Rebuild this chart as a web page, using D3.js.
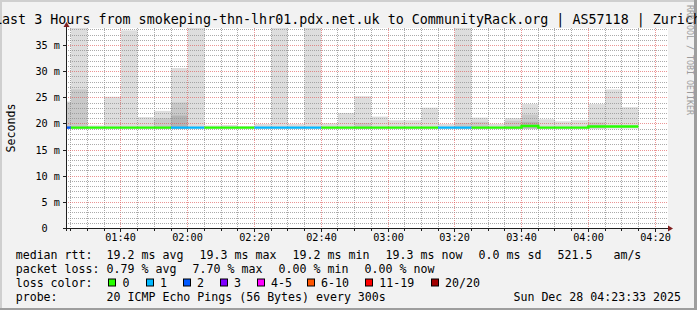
<!DOCTYPE html>
<html>
<head>
<meta charset="utf-8">
<script src="https://cdn.jsdelivr.net/npm/d3@7"></script>
<style>
  html, body { margin: 0; padding: 0; background: #f2f2f2; }
  svg { display: block; }
  text { font-family: "DejaVu Sans Mono", monospace; white-space: pre; }
</style>
</head>
<body>
<div id="chart"></div>
<script>
// one entry per 5 minute step, the first one (01:20) is only partly in the window
const lossClass = [2, 0, 0, 0, 0, 0, 0, 1, 1, 0, 0, 0, 1, 1, 1, 1, 0, 0, 0, 0, 0, 0, 0, 1, 1, 0, 0, 0, 0, 0, 0, 0, 0, 0, 0];
const medianRtt = [19.2, 19.2, 19.2, 19.2, 19.2, 19.2, 19.2, 19.2, 19.2, 19.2, 19.2, 19.2, 19.2, 19.2, 19.2, 19.2, 19.2, 19.2, 19.2,
                   19.2, 19.2, 19.2, 19.2, 19.2, 19.2, 19.2, 19.2, 19.2, 19.5, 19.2, 19.2, 19.2, 19.4, 19.4, 19.4];
// smoke: outer / middle / inner top of the ping spread (ms)
const smokeHi = [24.2, 40, 19.6, 25.1, 37.8, 21.2, 22.4, 30.6, 40, 19.6, 19.7, 19.5, 19.9, 40, 19.9, 40, 20.0, 22.0,
                 25.2, 21.3, 20.6, 20.6, 23.0, 19.9, 40, 21.1, 19.9, 21.0, 23.7, 20.8, 20.4, 20.6, 23.7, 26.5, 23.1];
const smokeMid = [24.0, 26.5, null, null, null, null, 21.0, 24.0, null, null, null, null, null, null, null, null, null, null,
                  20.1, null, null, null, null, null, 20.1, 20.3, null, 20.5, 21.7, null, null, null, 20.2, null, null];
const smokeInner = [null, null, null, null, null, null, null, 21.5, null, null, null, null, null, null, null, null, null, null,
                    null, null, null, null, null, null, null, null, null, null, 20.3, null, null, null, null, null, null];
const smokeFloor = 19.0;

const lossLabels = ["0", "1", "2", "3", "4-5", "6-10", "11-19", "20/20"];
const lossColors = ["#26ff00", "#00b8ff", "#0059ff", "#7e00ff", "#ff00ff", "#ff5500", "#ff0000", "#a10000"];
const rttStats = ["19.2 ms avg", "19.3 ms max", "19.2 ms min", "19.3 ms now", "0.0 ms sd", "521.5   am/s"];
const lossStats = ["0.79 % avg", "7.70 % max", "0.00 % min", "0.00 % now"];
const probeText = "20 ICMP Echo Pings (56 Bytes) every 300s";
const stampText = "Sun Dec 28 04:23:33 2025";
const titleText = "Last 3 Hours from smokeping-thn-lhr01.pdx.net.uk to CommunityRack.org | AS57118 | Zurich";

const W = 697, H = 310;
const plotLeft = 66, plotRight = 667, plotTop = 28, plotBottom = 228;

const t0 = new Date(2025, 11, 28, 1, 23, 33);
const t1 = new Date(2025, 11, 28, 4, 23, 33);
const firstBin = new Date(2025, 11, 28, 1, 20, 0);
const bins = medianRtt.map((m, i) => ({
    start: d3.timeMinute.offset(firstBin, 5 * i),
    end: d3.timeMinute.offset(firstBin, 5 * i + 5),
    median: m,
    loss: lossClass[i],
    hi: smokeHi[i],
    mid: smokeMid[i],
    inner: smokeInner[i]
}));

const x = d3.scaleTime().domain([t0, t1]).range([plotLeft, plotRight]);
const y = d3.scaleLinear().domain([0, 38.25]).range([plotBottom, plotTop]);

const svg = d3.select("#chart").append("svg")
    .attr("width", W)
    .attr("height", H);

// background + 3d border
svg.append("rect").attr("width", W).attr("height", H).attr("fill", "#f2f2f2");
svg.append("rect").attr("x", 0).attr("y", 0).attr("width", W).attr("height", 2).attr("fill", "#cfcfcf");
svg.append("rect").attr("x", 0).attr("y", 0).attr("width", 2).attr("height", H).attr("fill", "#cfcfcf");
svg.append("rect").attr("x", 0).attr("y", H - 2).attr("width", W).attr("height", 2).attr("fill", "#9e9e9e");
svg.append("rect").attr("x", W - 3).attr("y", 0).attr("width", 3).attr("height", H).attr("fill", "#9e9e9e");

// canvas
svg.append("rect")
    .attr("x", plotLeft).attr("y", plotTop)
    .attr("width", plotRight - plotLeft + 1).attr("height", plotBottom - plotTop)
    .attr("fill", "#ffffff");

svg.append("clipPath").attr("id", "plot")
    .append("rect")
    .attr("x", plotLeft).attr("y", plotTop)
    .attr("width", plotRight - plotLeft + 1).attr("height", plotBottom - plotTop);

// smoke layers
const layers = [
    { key: "hi", color: "#dddddd" },
    { key: "mid", color: "#c9c9c9" },
    { key: "inner", color: "#b4b4b4" }
];
const smoke = svg.append("g").attr("clip-path", "url(#plot)");
layers.forEach(layer => {
    smoke.selectAll(null)
        .data(bins.filter(d => d[layer.key] != null))
        .join("rect")
        .attr("x", d => x(d.start))
        .attr("width", d => x(d.end) - x(d.start))
        .attr("y", d => y(d[layer.key]))
        .attr("height", d => y(smokeFloor) - y(d[layer.key]))
        .attr("fill", layer.color);
});

// grid
const px = v => Math.floor(v) + 0.5;
const py = v => Math.round(v) + 0.5;
const grid = svg.append("g").attr("stroke-dasharray", "1,1").attr("stroke-width", 1);
const fiveMin = x.ticks(d3.timeMinute.every(5));
const isMajorTime = t => t.getMinutes() % 20 === 0;
grid.selectAll(null)
    .data(fiveMin)
    .join("line")
    .attr("x1", d => px(x(d))).attr("x2", d => px(x(d)))
    .attr("y1", plotTop).attr("y2", plotBottom)
    .attr("stroke", d => isMajorTime(d) ? "rgba(222,79,79,0.6)" : "rgba(143,143,143,0.75)");
const msLines = d3.range(1, 39);
grid.selectAll(null)
    .data(msLines)
    .join("line")
    .attr("x1", plotLeft).attr("x2", plotRight + 1)
    .attr("y1", d => py(y(d))).attr("y2", d => py(y(d)))
    .attr("stroke", d => d % 5 === 0 ? "rgba(222,79,79,0.6)" : "rgba(143,143,143,0.75)");

// median line, one path per run of the same loss colour
const runs = [];
bins.forEach(d => {
    const last = runs[runs.length - 1];
    if (last && last.loss === d.loss) last.points.push(d);
    else runs.push({ loss: d.loss, points: [d] });
});
const medianLine = d3.line()
    .x(d => x(d.t))
    .y(d => y(d.v))
    .curve(d3.curveStepAfter);
svg.append("g").attr("clip-path", "url(#plot)")
    .selectAll("path")
    .data(runs)
    .join("path")
    .attr("d", r => {
        const pts = r.points.map(d => ({ t: d.start, v: d.median }));
        const lastPt = r.points[r.points.length - 1];
        pts.push({ t: lastPt.end, v: lastPt.median });
        return medianLine(pts);
    })
    .attr("fill", "none")
    .attr("stroke", r => lossColors[r.loss])
    .attr("stroke-width", 2.4);

// axes
const axisColor = "#1f1f1f", arrowColor = "#801f1f";
svg.append("line")
    .attr("x1", plotLeft - 3).attr("x2", plotRight + 1)
    .attr("y1", plotBottom + 0.5).attr("y2", plotBottom + 0.5)
    .attr("stroke", axisColor);
svg.append("line")
    .attr("x1", plotLeft + 0.5).attr("x2", plotLeft + 0.5)
    .attr("y1", plotBottom + 3).attr("y2", plotTop - 4)
    .attr("stroke", axisColor);
svg.append("path")
    .attr("d", `M${plotRight + 1},${plotBottom - 2.5}L${plotRight + 6},${plotBottom + 0.5}L${plotRight + 1},${plotBottom + 3.5}Z`)
    .attr("fill", arrowColor);
svg.append("path")
    .attr("d", `M${plotLeft - 2.5},${plotTop - 1}L${plotLeft + 0.5},${plotTop - 6}L${plotLeft + 3.5},${plotTop - 1}Z`)
    .attr("fill", arrowColor);

// x ticks + labels
svg.append("g").selectAll("line")
    .data(fiveMin)
    .join("line")
    .attr("x1", d => px(x(d))).attr("x2", d => px(x(d)))
    .attr("y1", plotBottom + 1).attr("y2", d => plotBottom + (isMajorTime(d) ? 4 : 3))
    .attr("stroke", axisColor);
const fmt = d3.timeFormat("%H:%M");
svg.append("g").selectAll("text")
    .data(fiveMin.filter(isMajorTime))
    .join("text")
    .attr("x", d => px(x(d)))
    .attr("y", 241)
    .attr("text-anchor", "middle")
    .attr("font-size", "10.2px")
    .attr("fill", "#000")
    .text(fmt);

// y ticks + labels
const yTicks = d3.range(0, 36, 5);
svg.append("g").selectAll("line")
    .data(yTicks)
    .join("line")
    .attr("x1", plotLeft - 3).attr("x2", plotLeft)
    .attr("y1", d => py(y(d))).attr("y2", d => py(y(d)))
    .attr("stroke", axisColor);
svg.append("g").selectAll("text")
    .data(yTicks)
    .join("text")
    .attr("x", 60)
    .attr("y", d => py(y(d)) + 3.5)
    .attr("text-anchor", "end")
    .attr("font-size", "10.2px")
    .attr("fill", "#000")
    .text(d => d === 0 ? "0\u00a0\u00a0" : d + " m");

// title, axis label, watermark
svg.append("text")
    .attr("x", 347.5).attr("y", 24)
    .attr("text-anchor", "middle")
    .attr("font-size", "13.35px")
    .attr("fill", "#000")
    .text(titleText);
svg.append("text")
    .attr("transform", `translate(15.3,${(plotTop + plotBottom) / 2}) rotate(-90)`)
    .attr("text-anchor", "middle")
    .attr("font-size", "11.6px")
    .attr("fill", "#000")
    .text("Seconds");
svg.append("text")
    .attr("transform", "translate(686.5,60) rotate(90)")
    .attr("text-anchor", "middle")
    .attr("font-size", "8.3px")
    .attr("fill", "#9c9c9c")
    .text("RRDTOOL / TOBI OETIKER");

// legend
const legendFont = "11.6px";
const rowY = [258.5, 272.5, 286.5, 300.5];
const rttX = [106.6, 199.6, 292.6, 385.6, 478.6, 557.6];
const lossX = [106.6, 192.6, 278.6, 364.6];
const swatchX = [108.3, 145.7, 182.7, 219.7, 256.7, 306.7, 365, 430.7];
const legend = svg.append("g").attr("font-size", legendFont).attr("fill", "#000");

legend.selectAll(null)
    .data(["median rtt:", "packet loss:", "loss color:", "probe:"])
    .join("text")
    .attr("x", 15.7)
    .attr("y", (d, i) => rowY[i])
    .text(d => d);
legend.selectAll(null)
    .data(rttStats)
    .join("text")
    .attr("x", (d, i) => rttX[i])
    .attr("y", rowY[0])
    .text(d => d);
legend.selectAll(null)
    .data(lossStats)
    .join("text")
    .attr("x", (d, i) => lossX[i])
    .attr("y", rowY[1])
    .text(d => d);
legend.selectAll(null)
    .data(lossLabels)
    .join("rect")
    .attr("x", (d, i) => Math.round(swatchX[i]) + 0.5)
    .attr("y", rowY[2] - 7.5)
    .attr("width", 7)
    .attr("height", 7)
    .attr("fill", (d, i) => lossColors[i])
    .attr("stroke", "#000");
legend.selectAll(null)
    .data(lossLabels)
    .join("text")
    .attr("x", (d, i) => swatchX[i] + 14.3)
    .attr("y", rowY[2])
    .text(d => d);
legend.append("text").attr("x", 106.6).attr("y", rowY[3]).text(probeText);
legend.append("text").attr("x", 681).attr("y", rowY[3]).attr("text-anchor", "end").text(stampText);
</script>
</body>
</html>
